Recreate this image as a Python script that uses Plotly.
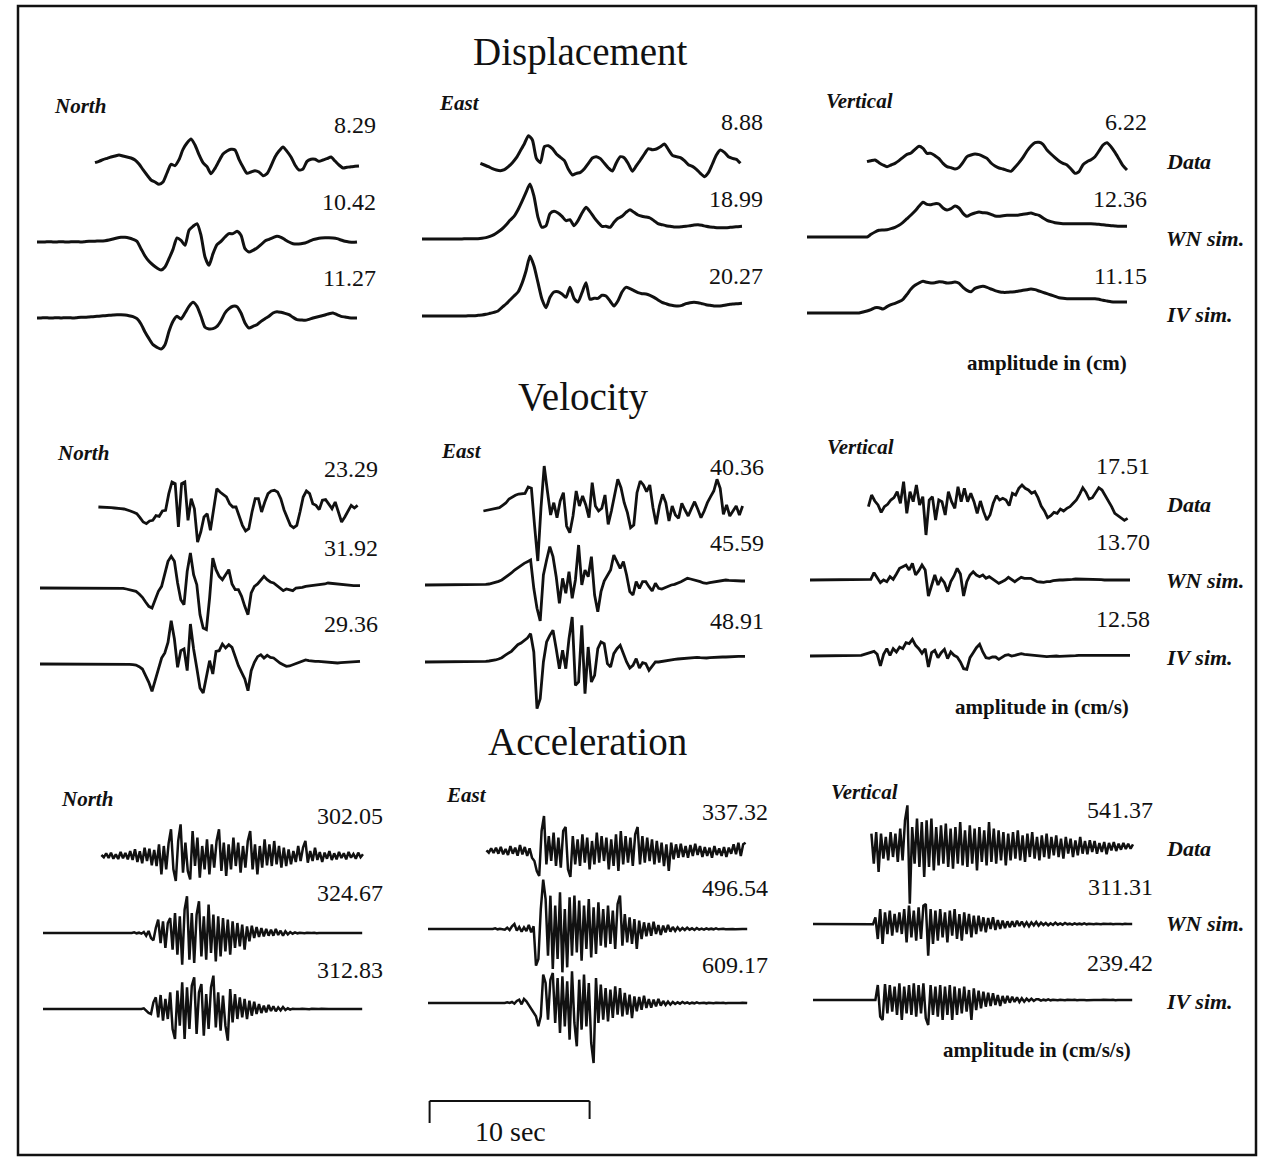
import plotly.graph_objects as go

# ---------------------------------------------------------------------------
# Waveforms, uniformly sampled, in digitizer counts (up = positive).
# Simulations start at t = 0 s; recorded data start at the onset time below.
# ---------------------------------------------------------------------------

# Displacement (dt = 0.25 s)
disp_north_data = [7, 11, 16, 20, 24, 27, 30, 27, 24, 21, 15, 3, -14, -30, -45, -51, -58, -51, -24, 2,
                   -2, 16, 47, 66, 78, 60, 31, 7, -5, -26, -10, 12, 33, 42, 47, 45, 17, -6, -25, -21,
                   -17, -21, -32, -26, -3, 24, 42, 54, 41, 24, 0, -15, -12, 11, 17, 17, 11, 15, 19, 24,
                   12, 0, -9, -7, -5, -4, -3]
disp_north_wn = [0, 0, 0, 1, 0, 0, 1, 0, 0, 1, 1, 0, 1, 2, 2, 3, 3, 4, 6, 9,
                 12, 14, 14, 12, 8, 2, -20, -42, -58, -69, -78, -84, -75, -50, -22, 12, 5, -10, 35, 47,
                 55, 20, -45, -70, -35, -8, 2, 15, 25, 25, 32, 20, -20, -30, -25, -18, -8, 3, 8, 13,
                 17, 14, 7, 0, -5, -6, -5, -3, 2, 7, 10, 12, 13, 13, 12, 10, 6, 2, 0, -1, 0]
disp_north_iv = [0, 0, 1, 0, 0, 1, 0, 1, 1, 0, 1, 2, 2, 3, 4, 5, 6, 7, 8, 9, 10, 10, 9,
                 7, 4, -2, -18, -42, -62, -80, -88, -93, -80, -40, -10, 5, -3, 15, 35, 47, 35, 5, -28,
                 -33, -32, -25, -8, 15, 28, 35, 34, 15, -15, -30, -25, -20, -10, -2, 5, 15, 19, 17, 14,
                 10, 2, -5, -6, -7, -4, 0, 3, 6, 9, 13, 15, 10, 5, 3, 1, 0, 0]

disp_east_data = [5, 0, -5, -11, -15, -17, -14, -5, 7, 22, 43, 64, 88, 75, 20, 7, 55, 58, 49, 33,
                  23, 13, -13, -30, -25, -22, -11, 5, 21, 25, 19, 5, -9, -18, 7, 25, 21, 3, -19, -2,
                  15, 33, 49, 46, 48, 55, 63, 46, 29, 25, 22, 13, 1, -4, -13, -25, -35, -23, 3, 30,
                  45, 38, 25, 20, 17, 5]
disp_east_wn = [0, 0, 0, 0, 0, 0, 0, 0, 0, 0, 0, 1, 1, 1, 1, 2, 4, 8, 13, 21,
                30, 42, 56, 68, 88, 113, 140, 165, 128, 65, 35, 40, 76, 83, 78, 68, 55, 58, 40, 55,
                78, 95, 82, 65, 50, 38, 38, 35, 50, 62, 68, 80, 88, 80, 72, 68, 66, 63, 55, 46,
                43, 40, 38, 36, 36, 37, 38, 40, 42, 43, 41, 38, 36, 35, 34, 34, 34, 35, 36, 37, 38]
disp_east_iv = [0, 0, 0, 0, 0, 0, 0, 0, 0, 0, 0, 0, 1, 1, 2, 3, 5, 8, 11, 15,
                26, 36, 48, 60, 72, 98, 135, 180, 150, 100, 50, 25, 56, 72, 73, 66, 56, 86, 53, 42,
                70, 100, 50, 53, 53, 62, 60, 45, 30, 46, 72, 86, 82, 76, 70, 67, 66, 62, 56, 48,
                41, 37, 33, 31, 30, 32, 37, 40, 41, 40, 37, 34, 32, 30, 30, 31, 33, 35, 36, 37, 38]

disp_vert_data = [-5, -2, 0, -8, -15, -20, -15, -10, -2, 8, 17, 21, 32, 41, 35, 20, 20, 13, 4, -10,
                  -20, -23, -27, -22, -7, 10, 15, 18, 16, 11, 5, -9, -18, -24, -27, -31, -34, -22, -8, 8,
                  27, 42, 52, 53, 47, 30, 18, 7, -3, -10, -15, -27, -40, -35, -14, -5, 1, 10, 27, 45,
                  52, 40, 23, 3, -17, -30]
disp_vert_wn = [0, 0, 0, 0, 0, 0, 0, 0, 0, 0, 0, 0, 0, 0, 0, 0,
                8, 15, 20, 21, 22, 25, 29, 35, 44, 55, 66, 78, 92, 104, 98, 97, 100, 99, 87, 81,
                85, 93, 87, 71, 62, 68, 72, 75, 73, 72, 68, 63, 62, 64, 65, 65, 65, 66, 68, 70,
                72, 68, 65, 57, 50, 46, 43, 41, 40, 40, 40, 40, 40, 40, 40, 40, 39, 38, 37, 35,
                34, 33, 32, 32, 32]
disp_vert_iv = [0, 0, 0, 0, 0, 0, 0, 0, 0, 0, 0, 0, 0, 0,
                3, 6, 10, 16, 16, 12, 19, 25, 29, 34, 41, 56, 72, 83, 90, 95, 92, 90, 91, 94,
                93, 90, 91, 93, 89, 77, 68, 64, 74, 78, 80, 77, 72, 67, 64, 62, 62, 63, 64, 66,
                68, 70, 72, 70, 66, 62, 58, 54, 50, 46, 44, 43, 43, 43, 43, 43, 43, 43, 43, 41,
                38, 36, 34, 33, 33, 33, 33]

# Velocity (dt = 0.2 s)
vel_north_data = [0, 0, -1, -2, -2, -3, -3, -5, -6, -8, -12, -16, -20, -32, -45, -50, -42, -40, -26, -28,
                  -12, -10, 40, 75, 70, -60, 70, 75, -40, 25, -5, -105, -75, -30, -20, -70, -10, 55, 45, 38,
                  30, 10, 0, 0, -25, -55, -72, -65, -15, 25, 25, -15, 15, 40, 48, 50, 45, 25, -8, -30,
                  -55, -62, -55, -15, 30, 48, 40, 10, 5, -8, 20, 22, 10, -5, 15, -15, -45, -30, -10, 5,
                  -3, 5]
vel_north_wn = [0, 0, 0, 0, 1, 0, 0, 0, 1, 0, 0, 1, 0, 0, 0, 1, 0, 0, 0, 1, 0, 0, 1, 0, 0, 0, -1, -3,
                -5, -7, -10, -18, -28, -42, -55, -60, -32, -10, 5, 40, 80, 95, 80, 15, -35, -50, 50, 105,
                40, 10, -80, -120, -125, -30, 90, 55, 35, 25, 40, 55, 12, -5, -5, -25, -55, -80, -15, 5,
                12, 25, 35, 25, 18, 15, 8, 0, -8, -3, -5, -8, 0, 0, 2, 5, 6, 8, 10, 10,
                12, 12, 15, 14, 12, 10, 9, 8, 8, 7, 7, 7, 7]
vel_north_iv = [0, 0, 0, 1, 0, 0, 1, 0, 0, 0, 1, 0, 0, 0, 1, 0, 0, 1, 0, 0, 0, 1, 0, 0, 0, 1, 0, 0, -1, -2,
                -3, -8, -15, -35, -55, -82, -50, -12, 18, 33, 65, 130, 75, -10, 40, 45, -20, 120, 45, -12,
                -72, -87, -40, 10, -30, 38, 40, 60, 48, 58, 50, 20, -5, -25, -45, -80, -20, 5, 22, 28,
                18, 26, 20, 18, 10, 3, -2, -7, -6, -2, 2, 4, 8, 12, 10, 8, 8, 8, 7, 6,
                6, 5, 4, 3, 4, 5, 5, 6, 7, 8, 8]

vel_east_data = [0, 2, 3, 4, 6, 10, 17, 24, 36, 42, 47, 51, 53, 53, 72, 68, -45, -150, 10, 135,
                 60, -12, 25, -20, 30, 55, -45, -65, -15, 60, 15, 45, 18, -20, 85, 15, 0, 8, 48, -40,
                 0, 45, 95, 70, 25, -5, -50, -42, 55, 90, 78, 58, 78, 10, -40, 15, 50, 25, -30, 15,
                 -12, -22, 23, 3, -15, 7, 28, 5, -20, 0, 25, 43, 60, 95, 68, -10, 18, -15, 0, 15,
                 -12, 15]
vel_east_wn = [0, 0, 0, 0, 0, 0, 0, 0, 0, 0, 0, 0, 0, 0, 0, 0, 1, 1, 2, 2, 3,
               5, 8, 11, 15, 22, 28, 36, 45, 52, 58, 65, 70, 75, -10, -70, -108, 30, 75, 115, 85,
               25, -55, 20, -25, 40, -40, 15, 120, 0, 45, 25, 85, -30, -80, -20, 12, 28, 45, 90, 70,
               50, 70, 30, -20, -30, 10, -10, 10, 10, -5, -18, 5, -10, -12, -8, -2, 0, 2, 5, 10,
               15, 20, 18, 16, 14, 10, 6, 5, 7, 9, 10, 13, 14, 15, 14, 13, 12, 12, 12, 12]
vel_east_iv = [0, 0, 0, 0, 0, 0, 0, 0, 0, 0, 0, 0, 0, 0, 0, 0, 0, 1, 1, 2, 3,
               4, 6, 9, 13, 20, 27, 32, 42, 52, 57, 65, 72, 85, 30, -140, -110, 0, 60, 80, 95,
               40, -20, 35, -20, 70, 135, -70, -60, 110, -95, 45, -60, -40, 40, 60, 55, -5, -15, 25, 40,
               50, 22, 0, -18, -10, 10, -18, -2, -5, -25, -12, 0, 0, 2, 3, 5, 6, 8, 9, 10,
               10, 11, 13, 15, 14, 13, 12, 12, 13, 14, 14, 15, 15, 15, 16, 16, 17, 17, 17, 17]

vel_vert_data = [-5, 30, 12, 0, -22, -5, 2, 15, 22, 40, 5, 70, -25, 40, 10, 60, 0, 25, -90, 15,
                 25, -45, 15, 10, -30, 40, 10, -10, 55, 10, 50, 10, 35, 10, -25, 12, -20, -45, -30, 5,
                 28, 15, 20, 15, -2, 35, 30, 50, 60, 50, 45, 35, 40, 22, -3, -18, -38, -32, -22, -25,
                 -12, -18, -10, -5, 5, 15, 32, 52, 38, 18, 22, 38, 52, 45, 28, 15, -5, -25, -32, -38,
                 -46, -40]
vel_vert_wn = [0, 0, 0, 0, 0, 0, 0, 0, 0, 0, 0, 0, 0, 0, 0, 0, 0, 0, 1, 2,
               22, 8, -8, 0, -5, 10, 2, 18, 35, 40, 45, 30, 50, 15, 28, 45, 30, -48, -15, 15,
               -15, 5, -8, -35, -5, 12, 35, 18, -48, -5, 15, 25, 15, 10, 15, 5, 10, 3, -5, -10,
               -5, 0, 8, 2, -5, 2, 8, 5, 6, 5, 0, -5, -6, -7, -5, -5, -2, 0, 0, 0,
               0, 1, 2, 3, 3, 3, 3, 2, 2, 2, 2, 1, 0, 0, 0, 0, 0, 0, 0, 0, 0]
vel_vert_iv = [0, 0, 0, 0, 0, 0, 0, 0, 0, 0, 0, 0, 0, 0, 0, 1, 2,
               5, 8, 12, 14, 5, -30, 5, 22, 2, 22, 12, 27, 22, 40, 37, 50, 32, 22, 8, 22,
               -33, 10, 17, -5, 10, 20, -8, 12, 2, -3, -18, -38, -40, -5, 10, 25, 35, 12, -5, -7,
               -3, -3, -10, -3, 2, 4, 0, 2, 5, 7, 5, 4, 3, 2, 0, -1, -3, -2, -1, 0,
               0, -1, -1, 0, 0, 0, 1, 2, 2, 1, 0, 0, 0, 0, 0, 0, 0, 0, 0, 0, 1, 2, 2, 2]

# Acceleration (dt = 0.15 s)
acc_north_data = [3, -4, 8, -6, 10, -8, 5, -9, 12, -7, 9, -10,
                  15, -12, 20, -18, 14, -22, 25, -15, 22, -28, 18,
                  -30, 35, -55, 30, -40, 38,
                  80, -40, -75, 45, 95, -50, 40, -45, -70, 75, -30, 55, -65, 30, -40, 50, -55, 35, -35, 45,
                  80, -45, 40, -60, 35, -40, 55, -30, 40, -50, 30, -35, 45, 75, -40, 35, -55, 30, -35, 50,
                  -28, 35, -30, 45, -25, 30, -35, 25, -30, 20, -25, 15, -18, 30, -15, 25, 45, -20, 15, -15,
                  25, -12, 12, -18, 10, -8, 15, -12, 8, -10, 12, -6, 8, -10, 12, -5, 6, -8, 10, -4, 5]
acc_north_wn = [0, 0, 1, 0, -1, 0, 0, 1, 0, 0, -1, 0, 1, 0, 0, 0, -1, 0, 1, 0,
                0, 0, 1, 0, -1, 0, 0, 1, 0, 0, -1, 0, 1, 0, 0, 1, -1, 0, 2, -1, 1,
                -2, 3, -8, 6, -15, -22, 15, 40, -30, 35, -45, 30, 45, -50, 60, -65, 50, -95, 70, 110,
                -80, 60, -90, 55, 95, -70, 50, -80, 85, -60, 55, -85, 50, -70, 45, -55, 40, -65, 35, -45,
                30, -40, 25, -50, 20, -25, 22, -15, 18, -12, 15, -10, 12, -8, 10, -8, 12, -6, 7, -8,
                5, -4, 3, -2,
                2, -1, 1, 0, -1, 1, 0, 0, 1, -1, 0, 0, 1, 0, -1, 0, 0, 1, 0, 0,
                -1, 0, 1, 0, 0, 0, 1, 0, 0]
acc_north_iv = [0, 0, 1, 0, 0, -1, 0, 0, 1, 0, 0, 0, -1, 0, 1, 0, 0, 0, 1, -1,
                0, 0, 0, 1, 0, 0, -1, 0, 0, 1, 0, 0, 0, -1, 1, 0, 0, 1, 0, -1, 1, 0,
                2, -6, -12, -15, 20, 35, -25, 42, -35, 30, -30, 50, -60, -90, 55, -50, 80, -90, 65, -60,
                70, 95, -75, 50, 75, -80, 45, -60, 65, 100, -55, 50, -65, 40, -50, -95, 60, -40, 45, -30,
                35, -25, 30, -30, 25, -20, 22, -15, 15, -12, 10, -10, 12, -6, 8, -7, 5, -4, 6, -3,
                2, -2,
                1, 0, -1, 0, 1, 0, 0, -1, 1, 0, 0, 0, 1, 0, -1, 0, 0, 1, 0, 0,
                0, -1, 0, 1, 0, 0, 0, 1, 0, 0]

acc_east_data = [2, -5, 8, -6, 10, -8, 12, -10, 6, -12, 15, -8, 10, -14, 18, -10, 12, -15, 8, -20,
                 -30, -60, -75, 60, 105, -40, 45, -30, 55, -45, 40, -50, 60, 72, -55, -78, 45, -40, 35, -45,
                 50, -35, 40, -55, 30, -40, 55, -35, 45, -30, 40, -55, 35, -45, 50, -60, 60, -40, 45, -35,
                 40, -45, 50, 72, -40, 45, -35, 40, -30, 35, -40, 30, -35, 25, -45, 20, -60, 25, -25, 20,
                 -20, 22, -18, 15, -20, 18, -15, 22, -12, 15, -18, 12, -15, 10, -20, 15, -12, 8, -15, 12,
                 -18, 10, -8, 20, -10, 25, -15, 20, 25]
acc_east_wn = [0, 0, 1, 0, 0, -1, 0, 0, 1, 0, 0, 0, -1, 0, 1, 0, 0, 0, -1, 0,
               1, 0, 0, 1, 0, -1, 0, 0, 2, -1, 1, 0, -2,
               4, -3, 8, 15, -5, 6, -8, 5, -6, 12, -10, 8, -110, -90, 60, 148, 90, -80, 100, -120,
               70, -90, 110, -130, 60, -115, 95, -80, 100, -70, 85, -95, 70, -60, 90, -85, 65, -75, 80, -50,
               60, -55, 70, -45, 55, -60, 75, 100, -50, 45, -40, 35, -45, 30, -60, 25, -30, 20, -22, 18,
               -20, 22, -15, 12, -18, 10, -10, 12, -8, 6, -6,
               5, -4, 3, -3, 4, -2, 2, -3, 3, -2, 1, -2, 2, -1, 1, -1, 2, -1, 0, 1,
               -1, 0, 1, 0, -1, 0, 1, 0, 0, 0]
acc_east_iv = [0, 0, 1, 0, -1, 0, 0, 1, 0, 0, 0, -1, 0, 1, 0, 0, 0, 1, -1, 0,
               0, 1, 0, 0, -1, 0, 0, 1, 0, 0, 1, -1, 0, 2, 0,
               3, -2, 6, 10, -4, 12, 5, -6, -15, -25, -40, -70, -40, 85, 60, -50, 70, 90, -60, 75,
               -90, 80, -70, 65, -110, 95, -60, -130, 70, -80, 85, -70, 60, -120, -180, 75, -60, 55, -50, 45,
               -55, 40, -45, 50, -35, 45, -40, 30, -35, 25, -45, 20, -25, 18, -20, 22, -15, 12, -14, 10,
               -10, 12, -8, 6, -6, 4, -5, 3, -3,
               2, -2, 3, -1, 2, -2, 1, -1, 2, -1, 0, 1, -1, 1, 0, -1, 1, 0, 0, 1,
               -1, 0, 1, 0, 0, -1, 0, 1, 0, 0]

acc_vert_data = [40, -50, 45, -75, 40, -35, 30, -40, 45, -30, 40, -45, 55, -40, 80, 125, -170, 60, -50, 85,
                 -60, 75, -90, 80, -60, 85, -70, 60, -55, 65, -50, 70, -60, 55, -65, 60, -50, 75, -55, 50,
                 -60, 65, -50, 55, -70, 60, -45, 50, -55, 75, -45, 55, -50, 50, -40, 45, -55, 40, -40, 45,
                 -35, 50, -40, 35, -45, 40, -30, 45, -35, 30, -40, 35, -30, 40, -35, 30, -25, 35, -30, 25,
                 -35, 30, -20, 25, -30, 20, -25, 30, -20, 18, -22, 20, -15, 18, -20, 12, -15, 15, -22, 12,
                 -10, 15, -12, 10, -8, 12, -6, 10, -5, 8]
acc_vert_wn = [0, 0, 1, 0, 0, -1, 0, 0, 1, 0, 0, 0, -1, 0, 1, 0, 0, 0, 1, -1, 0, 0, 0, 1, 0, -1,
               20, -45, 45, -60, 35, -30, 40, -35, 30, -25, 35, -30, 45, -55, 55, -40, 40, -50, 50, -45,
               55, 60, -95, 45, -60, 40, -50, 45, -40, 35, -55, 40, -35, 45, -45, 30, -50, 35, -30, 30,
               -40, 25, -30, 25, -22, 20, -25, 18, -15, 20, -18, 12, -15, 10, -12, 8, -10, 8, -8, 10,
               -6, 7, -6, 5, -7, 5, -4, 6, -5, 4, -3, 3, -4, 2, -3, 4, -2,
               2, -2, 3, -1, 1, -2, 2, -1, 1, -1, 2, -1, 1, 0, -1, 1, 0, -1, 1, 0,
               0, 1, -1, 0, 1, 0, -1, 1, 0, 0, 0]
acc_vert_iv = [0, 0, 1, 0, 0, -1, 0, 0, 1, 0, 0, 0, -1, 0, 1, 0, 0, 0, 1, -1, 0, 0, 0, 1, 0, -1, 0,
               45, -50, -60, 48, -40, 45, -35, 40, -45, 50, -60, 40, -40, 45, -45, 50, -50, 45, -40, 50,
               -55, -75, 45, -45, 40, -50, 45, -60, 40, -45, 45, -60, 40, -45, 35, -40, 40, -35, 30, -60,
               35, -30, 28, -25, 25, -20, 22, -18, 20, -15, 15, -18, 12, -10, 12, -8, 10, -6, 8, -6,
               5, -5, 4, -3, 4, -3, 2,
               2, -2, 1, -1, 2, -1, 1, 0, -1, 1, 0, -1, 1, 0, 0, 1, -1, 0, 1, 0,
               -1, 0, 1, 0, 0, -1, 0, 1, 0, 0, 0, 1, -1, 0, 0, 1, 0, 0, -1, 0]

# Peak amplitudes (Data, WN sim., IV sim.) per component
disp_peaks = {"North": [8.29, 10.42, 11.27], "East": [8.88, 18.99, 20.27], "Vertical": [6.22, 12.36, 11.15]}
vel_peaks = {"North": [23.29, 31.92, 29.36], "East": [40.36, 45.59, 48.91], "Vertical": [17.51, 13.70, 12.58]}
acc_peaks = {"North": [302.05, 324.67, 312.83], "East": [337.32, 496.54, 609.17], "Vertical": [541.37, 311.31, 239.42]}

# Sampling interval (s) and onset of the recorded data (s) per component
sample_dt = {"Displacement": 0.25, "Velocity": 0.2, "Acceleration": 0.15}
data_onset = {"Displacement": [3.625, 3.65, 3.75], "Velocity": [3.65, 3.65, 3.65],
              "Acceleration": [3.65, 3.65, 3.65]}

components = ["North", "East", "Vertical"]
row_names = ["Data", "WN sim.", "IV sim."]
unit_labels = {"Displacement": "amplitude in (cm)", "Velocity": "amplitude in (cm/s)",
               "Acceleration": "amplitude in (cm/s/s)"}

waveforms = {
    "Displacement": {"North": [disp_north_data, disp_north_wn, disp_north_iv],
                     "East": [disp_east_data, disp_east_wn, disp_east_iv],
                     "Vertical": [disp_vert_data, disp_vert_wn, disp_vert_iv]},
    "Velocity": {"North": [vel_north_data, vel_north_wn, vel_north_iv],
                 "East": [vel_east_data, vel_east_wn, vel_east_iv],
                 "Vertical": [vel_vert_data, vel_vert_wn, vel_vert_iv]},
    "Acceleration": {"North": [acc_north_data, acc_north_wn, acc_north_iv],
                     "East": [acc_east_data, acc_east_wn, acc_east_iv],
                     "Vertical": [acc_vert_data, acc_vert_wn, acc_vert_iv]},
}
peaks = {"Displacement": disp_peaks, "Velocity": vel_peaks, "Acceleration": acc_peaks}

# ---------------------------------------------------------------------------
# Page geometry (pixels)
# ---------------------------------------------------------------------------
W, H = 1264, 1160
PX_PER_S = 16.0          # time scale: 10 s = 160 px
COUNTS_PER_PX = 3.0      # amplitude scale of the digitized counts
HALF_PX = 75             # half height of each trace strip
INK = "#111111"
FONT = "Liberation Serif, Times New Roman, serif"

sections = ["Displacement", "Velocity", "Acceleration"]
col_t0_px = {"Displacement": [37, 422, 807], "Velocity": [40, 425, 810], "Acceleration": [43, 428, 813]}
baseline_px = {
    "Displacement": [[165, 242, 318], [165, 239, 316], [160, 237, 313]],
    "Velocity": [[507, 588, 664], [511, 585, 662], [505, 580, 656]],
    "Acceleration": [[856, 933, 1009], [851, 929, 1003], [847, 924, 1000]],
}
line_width = {"Displacement": 3.0, "Velocity": 2.8, "Acceleration": 2.5}
line_shape = {"Displacement": "spline", "Velocity": "linear", "Acceleration": "linear"}

title_pos = {"Displacement": (580, 52), "Velocity": (583, 397), "Acceleration": (587, 741)}
comp_label_pos = {"Displacement": [(52, 106), (437, 103), (824, 101)],
                  "Velocity": [(55, 453), (439, 451), (825, 447)],
                  "Acceleration": [(59, 799), (444, 795), (829, 792)]}
peak_label_right = {"Displacement": [378, 765, 1149], "Velocity": [380, 766, 1152],
                    "Acceleration": [385, 770, 1155]}
peak_label_y = {
    "Displacement": [[125, 202, 278], [122, 199, 276], [122, 199, 276]],
    "Velocity": [[469, 548, 624], [467, 543, 621], [466, 542, 619]],
    "Acceleration": [[816, 893, 970], [812, 888, 965], [810, 887, 963]],
}
row_label_y = {"Displacement": [161, 238, 314], "Velocity": [504, 580, 657], "Acceleration": [848, 923, 1001]}
row_label_x = 1164
unit_label_pos = {"Displacement": (1047, 363), "Velocity": (1042, 707), "Acceleration": (1037, 1050)}


def px_x(x):
    return x / W


def px_y(y):
    return 1 - y / H


fig = go.Figure()
layout_axes = {}
annotations = []
axis_index = 0
scale_axis = None

for sec in sections:
    dt = sample_dt[sec]
    for ci, comp in enumerate(components):
        x0 = col_t0_px[sec][ci]
        for ri in range(3):
            counts = waveforms[sec][comp][ri]
            peak = peaks[sec][comp][ri]
            t_start = data_onset[sec][ci] if ri == 0 else 0.0
            times = [t_start + i * dt for i in range(len(counts))]
            gain = peak / max(abs(c) for c in counts)
            amp = [c * gain for c in counts]
            half_range = HALF_PX * COUNTS_PER_PX * gain

            axis_index += 1
            suffix = "" if axis_index == 1 else str(axis_index)
            fig.add_trace(go.Scatter(
                x=times, y=amp, mode="lines",
                line=dict(color=INK, width=line_width[sec], shape=line_shape[sec], smoothing=0.6),
                xaxis="x" + suffix, yaxis="y" + suffix,
                hoverinfo="skip", showlegend=False,
            ))
            base = baseline_px[sec][ci][ri]
            layout_axes["xaxis" + suffix] = dict(
                domain=[px_x(x0 - PX_PER_S), px_x(x0 + 21 * PX_PER_S)],
                range=[-1, 21], visible=False, fixedrange=True,
                anchor="y" + suffix)
            layout_axes["yaxis" + suffix] = dict(
                domain=[px_y(base + HALF_PX), px_y(base - HALF_PX)],
                range=[-half_range, half_range], visible=False, fixedrange=True,
                anchor="x" + suffix)
            if sec == "Acceleration" and comp == "East" and ri == 2:
                scale_axis = "x" + suffix

            annotations.append(dict(
                x=px_x(peak_label_right[sec][ci]), y=px_y(peak_label_y[sec][ci][ri]),
                xref="paper", yref="paper", xanchor="right", yanchor="middle",
                text=f"{peak:.2f}", showarrow=False,
                font=dict(family=FONT, size=24, color=INK)))

        lx, ly = comp_label_pos[sec][ci]
        annotations.append(dict(
            x=px_x(lx), y=px_y(ly), xref="paper", yref="paper",
            xanchor="left", yanchor="middle", text=f"<b><i>{comp}</i></b>",
            showarrow=False, font=dict(family=FONT, size=21, color=INK)))

    tx, ty = title_pos[sec]
    annotations.append(dict(
        x=px_x(tx), y=px_y(ty), xref="paper", yref="paper",
        xanchor="center", yanchor="middle", text=sec, showarrow=False,
        font=dict(family=FONT, size=39, color=INK)))

    for ri, name in enumerate(row_names):
        annotations.append(dict(
            x=px_x(row_label_x), y=px_y(row_label_y[sec][ri]), xref="paper", yref="paper",
            xanchor="left", yanchor="middle", text=f"<b><i>{name}</i></b>",
            showarrow=False, font=dict(family=FONT, size=22, color=INK)))

    ux, uy = unit_label_pos[sec]
    annotations.append(dict(
        x=px_x(ux), y=px_y(uy), xref="paper", yref="paper",
        xanchor="center", yanchor="middle", text=f"<b>{unit_labels[sec]}</b>",
        showarrow=False, font=dict(family=FONT, size=21, color=INK)))

# 10-second scale bar, drawn on the time axis of the acceleration/East column
SCALE_BAR_S = 10.0
bar_t0 = 0.1
bar_top, bar_left_tick, bar_right_tick = 1101, 1123, 1119
shapes = [
    dict(type="line", xref=scale_axis, yref="paper", x0=bar_t0, x1=bar_t0 + SCALE_BAR_S,
         y0=px_y(bar_top), y1=px_y(bar_top), line=dict(color=INK, width=2)),
    dict(type="line", xref=scale_axis, yref="paper", x0=bar_t0, x1=bar_t0,
         y0=px_y(bar_top), y1=px_y(bar_left_tick), line=dict(color=INK, width=2)),
    dict(type="line", xref=scale_axis, yref="paper", x0=bar_t0 + SCALE_BAR_S, x1=bar_t0 + SCALE_BAR_S,
         y0=px_y(bar_top), y1=px_y(bar_right_tick), line=dict(color=INK, width=2)),
    # page frame
    dict(type="rect", xref="paper", yref="paper", x0=px_x(18), x1=px_x(1256),
         y0=px_y(1155), y1=px_y(6), line=dict(color=INK, width=2.5)),
]
annotations.append(dict(
    x=px_x(510), y=px_y(1131), xref="paper", yref="paper", xanchor="center", yanchor="middle",
    text="10 sec", showarrow=False, font=dict(family=FONT, size=28, color=INK)))

fig.update_layout(
    width=W, height=H,
    margin=dict(l=0, r=0, t=0, b=0),
    paper_bgcolor="white", plot_bgcolor="rgba(0,0,0,0)",
    showlegend=False, hovermode=False,
    annotations=annotations, shapes=shapes,
    **layout_axes,
)

fig.write_html("out.html")
